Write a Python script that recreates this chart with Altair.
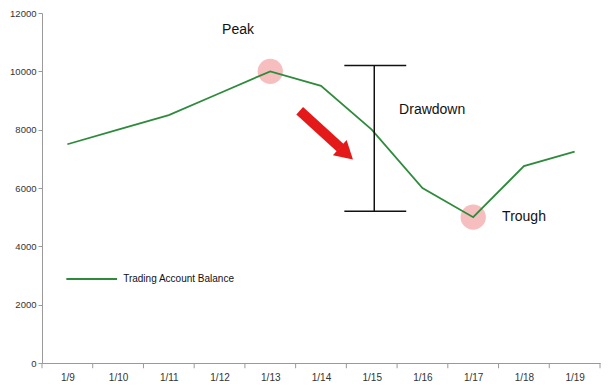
import altair as alt
import pandas as pd

dates = ["1/9", "1/10", "1/11", "1/12", "1/13", "1/14", "1/15", "1/16", "1/17", "1/18", "1/19"]
balance = [7500, 8000, 8500, 9250, 10000, 9500, 8000, 6000, 5000, 6750, 7250]
idx = list(range(len(dates)))

main = pd.DataFrame({"idx": idx, "date": dates, "balance": balance})

X = alt.Scale(domain=[-0.5, 10.5], nice=False, zero=False)
Y = alt.Scale(domain=[0, 12000], nice=False)

label_expr = "[" + ",".join(f"'{d}'" for d in dates) + "][datum.value]"

xax = alt.Axis(values=idx, labelExpr=label_expr, ticks=False, grid=False, title=None,
               domainColor="#9a9a9a", labelFont="Liberation Sans", labelFontSize=10,
               labelColor="#333", labelPadding=9)
yax = alt.Axis(values=list(range(0, 12001, 2000)), format="d", grid=False, title=None, tickSize=4,
               tickColor="#9a9a9a", domainColor="#9a9a9a", labelFont="Liberation Sans",
               labelFontSize=9.5, labelColor="#333", labelPadding=2)

# tick marks between categories
tick_df = pd.DataFrame({"t": [i - 0.5 for i in range(12)], "y0": [0] * 12, "y1": [-180] * 12})
ticks = alt.Chart(tick_df).mark_rule(color="#9a9a9a").encode(
    x=alt.X("t:Q", scale=X, axis=xax), y=alt.Y("y0:Q", scale=Y, axis=yax), y2="y1:Q")

# highlight circles
circ_df = pd.DataFrame({"idx": [4, 8], "balance": [10000, 5000]})
circles = alt.Chart(circ_df).mark_point(filled=True, shape="circle", size=640,
                                         color="#f19b9b", opacity=0.65).encode(
    x=alt.X("idx:Q", scale=X), y=alt.Y("balance:Q", scale=Y))

line = alt.Chart(main).mark_line(color="#2e8b3c", strokeWidth=1.8).encode(
    x=alt.X("idx:Q", scale=X), y=alt.Y("balance:Q", scale=Y))

# drawdown bar
dd_x = [6.05]
dd_top = [10200]
dd_bot = [5200]
dd_v = alt.Chart(pd.DataFrame({"x": dd_x, "a": dd_top, "b": dd_bot})).mark_rule(
    color="#111", strokeWidth=1.5).encode(x=alt.X("x:Q", scale=X), y=alt.Y("a:Q", scale=Y), y2="b:Q")
dd_h = alt.Chart(pd.DataFrame({"x": [5.46, 5.46], "x2": [6.68, 6.68], "y": [10200, 5200]})).mark_rule(
    color="#111", strokeWidth=1.5).encode(x=alt.X("x:Q", scale=X), x2="x2:Q", y=alt.Y("y:Q", scale=Y))

# red arrow
arrow_shaft = alt.Chart(pd.DataFrame({"x": [4.58], "x2": [5.38], "y": [8650], "y2": [7380]})).mark_rule(
    color="#e41a1a", strokeWidth=10).encode(x=alt.X("x:Q", scale=X), x2="x2:Q",
                                            y=alt.Y("y:Q", scale=Y), y2="y2:Q")
arrow_head = alt.Chart(pd.DataFrame({"x": [5.5], "y": [7180]})).mark_point(
    shape="triangle-right", filled=True, size=420, color="#e41a1a", opacity=1, angle=42).encode(
    x=alt.X("x:Q", scale=X), y=alt.Y("y:Q", scale=Y))

# labels
lab_df = pd.DataFrame({"x": [3.05, 6.54, 8.57], "y": [11420, 8680, 5000],
                       "t": ["Peak", "Drawdown", "Trough"]})
labels = alt.Chart(lab_df).mark_text(font="Liberation Sans", fontSize=14, color="#111",
                                     align="left", baseline="middle").encode(
    x=alt.X("x:Q", scale=X), y=alt.Y("y:Q", scale=Y), text="t:N")

# legend
leg_line = alt.Chart(pd.DataFrame({"x": [-0.02], "x2": [0.98], "y": [2880]})).mark_rule(
    color="#2e8b3c", strokeWidth=2).encode(x=alt.X("x:Q", scale=X), x2="x2:Q", y=alt.Y("y:Q", scale=Y))
leg_text = alt.Chart(pd.DataFrame({"x": [1.1], "y": [2880], "t": ["Trading Account Balance"]})).mark_text(
    font="Liberation Sans", fontSize=10, color="#111", align="left", baseline="middle").encode(
    x=alt.X("x:Q", scale=X), y=alt.Y("y:Q", scale=Y), text="t:N")

chart = alt.layer(ticks, circles, line, dd_v, dd_h, arrow_shaft, arrow_head, labels,
                  leg_line, leg_text).properties(
    width=558, height=350,
    autosize=alt.AutoSizeParams(type="none"),
    padding={"left": 34, "top": 5, "right": 4, "bottom": 20},
).configure_view(stroke=None)

chart.save("out.html", embed_options={"renderer": "svg", "actions": False})
